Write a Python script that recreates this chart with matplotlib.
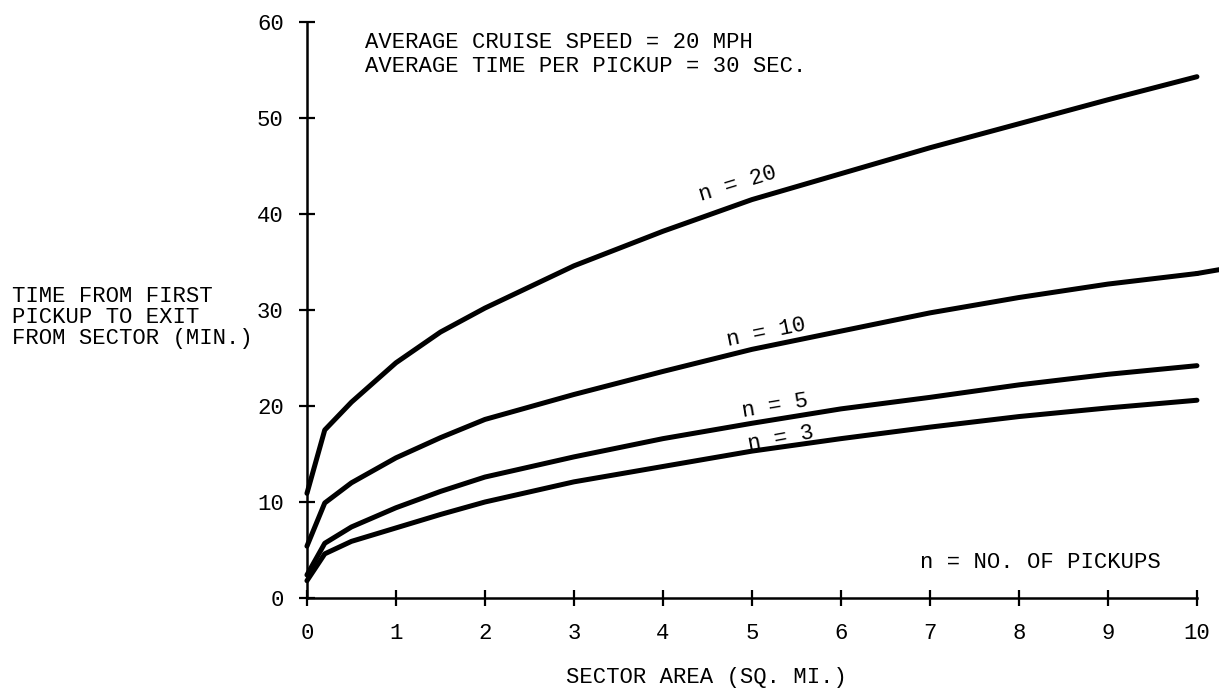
import matplotlib
matplotlib.use("Agg")
import matplotlib.pyplot as plt

# Sector area (sq. mi.) at which each curve is tabulated
area = [0.0, 0.2, 0.5, 1.0, 1.5, 2.0, 3.0, 4.0, 5.0, 6.0, 7.0, 8.0, 9.0, 10.0]

# Time from first pickup to exit from sector (min.), one list per pickup count
time_n20 = [10.9, 17.5, 20.4, 24.5, 27.7, 30.2, 34.6, 38.2, 41.5, 44.2, 46.9, 49.4, 51.9, 54.3]
time_n10 = [5.4, 9.9, 12.0, 14.6, 16.7, 18.6, 21.2, 23.6, 25.9, 27.8, 29.7, 31.3, 32.7, 33.8]
time_n5 = [2.4, 5.7, 7.4, 9.4, 11.1, 12.6, 14.7, 16.6, 18.2, 19.7, 20.9, 22.2, 23.3, 24.2]
time_n3 = [1.8, 4.6, 5.9, 7.3, 8.7, 10.0, 12.1, 13.7, 15.3, 16.6, 17.8, 18.9, 19.8, 20.6]

# The n = 10 curve runs a little past the last tick
area_n10_tail = [10.0, 10.25]
time_n10_tail = [33.8, 34.2]

curve_labels = ["n = 20", "n = 10", "n = 5", "n = 3"]
label_pos = [(4.84, 43.1), (5.16, 27.6), (5.26, 20.0), (5.33, 16.6)]
label_rot = [17, 11.5, 9.5, 10.5]

x_ticks = list(range(0, 11))
y_ticks = [0, 10, 20, 30, 40, 50, 60]

FONT = "Liberation Mono"
plt.rcParams["font.family"] = [FONT, "DejaVu Sans Mono"]
FS = 16

fig = plt.figure(figsize=(12.19, 6.96), dpi=100)
ax = fig.add_axes([0.2518, 0.1408, 0.7301, 0.8276])

lw = 3.6
for t in (time_n20, time_n10, time_n5, time_n3):
    ax.plot(area, t, color="black", lw=lw, solid_capstyle="round",
            solid_joinstyle="round", clip_on=False)
ax.plot(area_n10_tail, time_n10_tail, color="black", lw=lw,
        solid_capstyle="round", clip_on=False)

for txt, (lx, ly), rot in zip(curve_labels, label_pos, label_rot):
    ax.text(lx, ly, txt, rotation=rot, rotation_mode="anchor",
            ha="center", va="center", fontsize=FS, color="black")

ax.set_xlim(0, 10)
ax.set_ylim(0, 60)
ax.set_xticks(x_ticks)
ax.set_yticks(y_ticks)
ax.set_xticklabels([str(v) for v in x_ticks])
ax.set_yticklabels([str(v) for v in y_ticks])

for side in ("top", "right"):
    ax.spines[side].set_visible(False)
for side in ("left", "bottom"):
    ax.spines[side].set_linewidth(1.8)
    ax.spines[side].set_color("black")

ax.tick_params(axis="both", direction="inout", length=11.5, width=1.6,
               labelsize=FS, colors="black")
ax.tick_params(axis="x", pad=12)
ax.tick_params(axis="y", pad=11)

# Annotations
fig.text(365 / 1219, 1 - 43 / 696, "AVERAGE CRUISE SPEED = 20 MPH",
         ha="left", va="center", fontsize=FS)
fig.text(365 / 1219, 1 - 67 / 696, "AVERAGE TIME PER PICKUP = 30 SEC.",
         ha="left", va="center", fontsize=FS)
fig.text(920 / 1219, 1 - 563 / 696, "n = NO. OF PICKUPS",
         ha="left", va="center", fontsize=FS)
fig.text(706 / 1219, 1 - 677 / 696, "SECTOR AREA (SQ. MI.)",
         ha="center", va="center", fontsize=FS)
for i, line in enumerate(["TIME FROM FIRST", "PICKUP TO EXIT",
                          "FROM SECTOR (MIN.)"]):
    fig.text(12 / 1219, 1 - (297 + 20.7 * i) / 696, line,
             ha="left", va="center", fontsize=FS)

fig.savefig("out.png", dpi=100, facecolor="white")
